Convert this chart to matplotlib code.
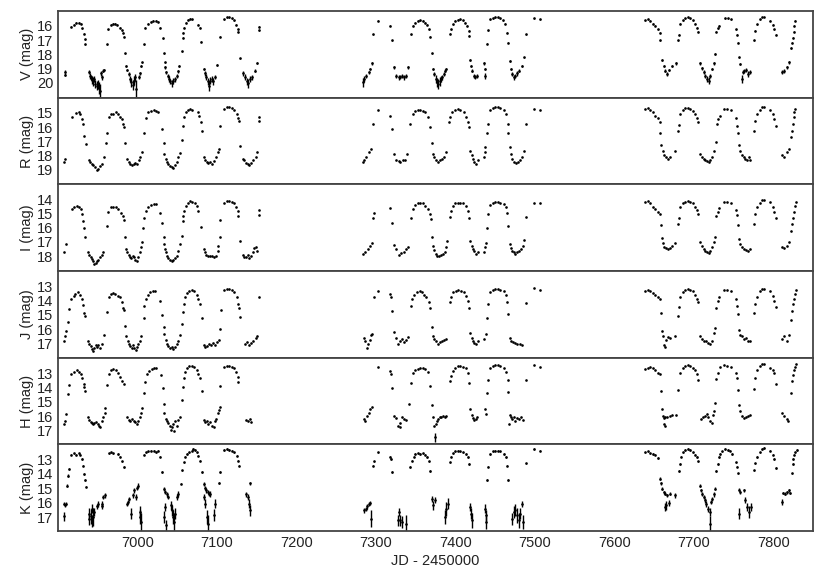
import matplotlib
matplotlib.use("Agg")
import matplotlib.pyplot as plt
import numpy as np

plt.rcParams['font.family'] = ['Liberation Sans', 'DejaVu Sans']

# ---------------- data (JD-2450000, mag, [err]) ----------------
V_pts = [
    (6908.2,19.23,.1),(6909.0,19.44,.1),
    (6916.6,16.07,.03),(6919.5,15.93,.03),(6922.9,15.79,.03),(6925.8,15.77,.03),(6928.3,15.84,.03),(6930.8,16.16,.03),(6932.5,16.54,.03),(6933.4,16.94,.03),(6934.2,17.29,.03),
    (6938.4,19.27,.15),(6939.7,19.51,.2),(6940.9,19.63,.2),(6942.2,19.81,.25),(6943.4,19.91,.3),(6945.1,19.74,.2),(6946.8,20.09,.3),(6948.5,20.21,.3),(6950.2,20.14,.3),(6951.8,20.37,.4),(6953.1,20.56,.5),(6954.4,19.35,.15),(6955.1,19.63,.2),(6956.0,19.16,.1),(6957.7,19.11,.1),
    (6961.4,17.29,.03),(6963.5,16.23,.03),(6966.1,15.93,.03),(6968.6,15.84,.03),(6971.1,15.84,.03),(6974.5,15.93,.03),(6977.4,16.12,.03),(6979.9,16.30,.03),(6981.6,16.47,.03),(6982.9,16.77,.03),(6983.7,17.94,.05),
    (6985.4,18.81,.08),(6987.1,19.11,.1),(6988.8,19.39,.15),(6990.5,19.74,.2),(6992.2,19.98,.3),(6993.8,20.14,.35),(6995.5,19.86,.3),(6997.2,19.63,.25),(6998.5,20.44,.6),(7001.4,19.58,.15),(7003.1,19.35,.1),(7004.8,18.81,.08),(7005.9,18.57,.05),
    (7007.6,17.29,.03),(7009.7,16.12,.03),(7013.0,15.84,.03),(7016.4,15.70,.03),(7019.7,15.65,.03),(7023.0,15.65,.03),(7025.6,15.72,.03),(7028.9,16.12,.03),(7031.9,16.87,.03),
    (7033.1,17.94,.05),(7034.0,18.57,.06),(7035.2,18.92,.08),(7036.5,19.27,.1),(7038.1,19.51,.15),(7039.8,19.74,.2),(7041.5,19.91,.2),(7043.2,20.05,.25),(7045.3,19.86,.2),(7047.4,19.77,.2),(7049.1,19.51,.15),(7050.7,19.20,.1),(7052.4,18.81,.08),(7055.7,17.80,.05),
    (7057.0,16.82,.03),(7057.8,16.47,.03),(7059.1,16.12,.03),(7061.2,15.77,.03),(7063.7,15.58,.03),(7066.7,15.49,.03),(7069.2,15.53,.03),(7076.7,15.93,.03),(7078.4,16.12,.03),(7080.1,17.12,.03),
    (7083.4,19.04,.1),(7085.1,19.35,.15),(7086.8,19.58,.2),(7088.5,19.91,.25),(7090.1,20.21,.35),(7091.8,19.86,.25),(7093.5,19.74,.2),(7095.6,19.91,.25),(7097.7,19.58,.15),(7100.6,18.74,.08),
    (7104.0,16.75,.03),(7109.4,15.53,.03),(7112.4,15.41,.03),(7115.3,15.39,.03),(7118.6,15.46,.03),(7121.6,15.60,.03),(7124.5,15.93,.03),(7126.2,16.23,.03),(7127.0,16.40,.03),(7129.1,18.29,.05),
    (7133.3,19.35,.15),(7135.4,19.58,.2),(7137.5,19.91,.25),(7139.6,20.05,.3),(7141.7,19.74,.2),(7143.8,19.63,.15),(7148.0,19.16,.1),(7150.1,18.62,.08),(7153.0,16.05,.03),(7153.0,16.30,.03),
    (7283.9,19.98,.3),(7285.5,19.74,.2),(7288.0,19.51,.15),(7291.0,19.27,.1),(7293.1,19.04,.1),(7295.2,18.64,.08),(7296.4,16.58,.03),(7302.3,15.65,.03),(7318.2,16.00,.03),(7320.8,17.01,.03),
    (7323.3,18.92,.08),(7325.8,19.51,.15),(7328.7,19.63,.15),(7330.8,19.58,.15),(7332.9,19.51,.15),(7335.0,19.63,.15),(7337.5,19.51,.15),(7340.0,18.92,.08),
    (7344.2,16.58,.03),(7346.7,16.00,.03),(7349.7,15.77,.03),(7352.6,15.65,.03),(7356.0,15.60,.03),(7359.3,15.65,.03),(7362.3,15.77,.03),(7364.4,15.93,.03),(7366.5,16.23,.03),(7368.6,16.77,.03),(7370.2,17.94,.05),
    (7371.9,19.04,.1),(7373.6,19.39,.15),(7375.3,19.74,.25),(7376.9,19.98,.3),(7378.6,20.09,.35),(7380.3,19.91,.3),(7382.0,19.74,.2),(7383.6,19.63,.2),(7385.3,19.39,.15),(7387.4,19.16,.1),(7388.7,19.04,.1),
    (7392.9,16.54,.03),(7394.5,16.23,.03),(7397.1,15.88,.03),(7400.0,15.65,.03),(7402.9,15.58,.03),(7406.3,15.53,.03),(7409.6,15.60,.03),(7412.6,15.77,.03),(7414.7,16.00,.03),(7417.2,16.35,.03),(7417.2,16.70,.03),
    (7418.9,18.41,.06),(7420.1,18.81,.08),(7421.4,19.16,.1),(7423.1,19.51,.15),(7425.2,19.58,.15),(7427.3,19.51,.15),(7436.5,18.64,.08),(7437.7,19.04,.1),(7436.9,19.51,.2),
    (7439.8,17.24,.03),(7440.7,16.30,.03),(7444.0,15.53,.03),(7447.4,15.46,.03),(7450.3,15.41,.03),(7453.3,15.41,.03),(7456.6,15.46,.03),(7460.0,15.60,.03),(7462.9,15.84,.03),(7465.0,16.47,.03),(7466.2,17.17,.03),
    (7468.3,18.46,.06),(7470.0,19.04,.1),(7471.7,19.39,.15),(7473.4,19.63,.2),(7475.1,19.51,.15),(7477.6,19.35,.15),(7480.1,19.16,.1),(7483.9,18.81,.08),(7486.8,18.22,.05),
    (7488.9,16.58,.03),(7498.5,15.46,.03),(7506.1,15.53,.03),
    (7639.0,15.60,.03),(7641.9,15.53,.03),(7645.3,15.65,.03),(7648.6,15.84,.03),(7651.6,16.00,.03),(7654.9,16.23,.03),(7657.0,16.47,.03),(7657.9,17.01,.03),
    (7660.0,18.41,.06),(7662.1,18.81,.08),(7664.2,19.16,.1),(7666.3,19.39,.15),(7668.4,19.11,.1),(7672.5,18.81,.08),(7678.0,18.64,.08),
    (7679.7,17.01,.03),(7680.9,16.63,.03),(7683.0,15.84,.03),(7686.4,15.60,.03),(7689.3,15.46,.03),(7692.3,15.41,.03),(7695.6,15.46,.03),(7699.0,15.60,.03),(7701.9,15.84,.03),(7704.0,16.12,.03),(7704.8,16.40,.03),
    (7708.2,18.64,.08),(7710.3,18.97,.1),(7712.4,19.27,.15),(7714.5,19.51,.15),(7716.6,19.74,.2),(7718.7,19.86,.25),(7720.8,19.51,.15),(7722.9,19.04,.1),(7725.0,18.64,.08),(7727.1,17.99,.05),
    (7728.3,16.40,.03),(7730.0,16.16,.03),(7731.2,16.00,.03),(7739.6,15.46,.03),(7742.6,15.46,.03),(7746.8,15.53,.03),(7753.5,16.23,.03),(7754.3,16.63,.03),(7755.1,17.17,.03),
    (7756.4,18.22,.05),(7758.5,18.69,.08),(7760.6,19.74,.25),(7761.9,19.27,.15),(7763.5,19.16,.15),(7766.1,19.11,.15),(7767.7,19.39,.2),(7770.2,19.27,.15),
    (7775.3,17.01,.03),(7777.4,16.35,.03),(7779.5,15.88,.03),(7782.8,15.53,.03),(7785.8,15.37,.03),(7788.7,15.37,.03),(7796.2,15.65,.03),(7799.5,15.93,.03),(7801.3,16.23,.03),(7802.9,16.63,.03),
    (7810.9,19.27,.15),(7813.8,19.16,.15),(7817.2,18.92,.1),(7819.3,18.57,.08),(7822.6,17.57,.05),(7823.9,17.17,.03),(7824.7,16.82,.03),(7825.6,16.40,.03),(7826.4,16.00,.03),(7827.7,15.65,.03),
]

R_pts = [
    (6908.1,18.45),(6909.0,18.22),(6917.4,15.28),(6922.4,15.05),(6925.8,14.98),(6927.9,15.09),(6930.8,15.44),(6932.0,15.79),(6933.3,16.60),(6935.0,17.18),
    (6938.4,18.29),(6940.4,18.45),(6942.5,18.61),(6944.6,18.68),(6946.7,18.80),(6948.8,18.98),(6950.9,18.91),(6953.0,18.75),(6955.1,18.61),(6957.6,18.10),
    (6960.1,17.13),(6961.4,16.43),
    (6964.3,15.28),(6966.9,15.09),(6969.8,15.09),(6972.7,14.98),(6976.1,15.09),(6978.6,15.28),(6980.3,15.44),(6982.0,15.79),(6983.2,16.02),(6984.0,17.13),
    (6986.6,18.22),(6988.7,18.45),(6990.8,18.57),(6992.9,18.68),(6995.0,18.61),(6997.0,18.52),(6999.6,18.57),(7002.1,18.29),(7003.7,18.06),(7005.4,17.76),
    (7007.6,16.43),(7010.5,15.37),(7013.8,14.98),(7017.2,14.86),(7020.5,14.82),(7023.9,14.86),(7026.4,14.98),(7031.4,16.14),(7033.1,17.13),
    (7033.9,17.87),(7035.6,18.22),(7037.3,18.45),(7039.0,18.61),(7041.1,18.75),(7043.2,18.80),(7045.3,18.84),(7047.4,18.68),(7049.4,18.45),(7051.6,18.10),(7054.1,17.82),
    (7055.7,16.94),(7057.0,15.90),(7059.1,15.32),(7061.2,14.98),(7063.3,14.82),(7066.2,14.77),(7069.2,14.82),(7076.7,14.98),(7077.9,15.21),(7080.1,15.67),(7080.9,16.30),
    (7083.4,18.10),(7085.1,18.33),(7087.2,18.45),(7089.3,18.52),(7091.4,18.45),(7093.5,18.57),(7096.0,18.38),(7098.5,18.10),(7101.0,17.76),(7102.7,17.52),
    (7104.0,15.90),(7109.4,14.75),(7112.4,14.63),(7115.3,14.63),(7118.6,14.68),(7122.0,14.82),(7124.9,15.09),(7127.0,15.37),(7127.9,15.56),(7129.1,17.36),
    (7132.5,18.22),(7134.6,18.33),(7136.7,18.52),(7138.8,18.61),(7140.9,18.68),(7143.0,18.52),(7145.9,18.33),(7148.8,18.10),(7150.9,17.76),(7153.0,15.28),(7153.0,15.56),
    (7283.9,18.45),(7285.5,18.29),(7288.0,18.06),(7291.0,17.76),(7293.9,17.52),(7296.4,15.79),(7302.3,14.82),(7318.2,15.21),(7320.8,16.14),
    (7323.3,17.87),(7325.8,18.29),(7328.7,18.38),(7330.8,18.45),(7334.2,18.33),(7337.1,18.29),(7339.2,17.87),
    (7343.4,15.79),(7346.7,15.09),(7349.7,14.86),(7352.6,14.82),(7356.0,14.82),(7359.3,14.86),(7362.3,14.98),(7365.2,15.32),(7368.6,15.97),(7370.2,17.13),
    (7371.9,17.87),(7373.6,18.10),(7376.1,18.29),(7378.6,18.45),(7381.1,18.33),(7383.6,18.22),(7386.2,18.10),(7388.7,17.76),
    (7392.0,15.67),(7393.7,15.32),(7396.2,14.98),(7399.6,14.82),(7402.9,14.77),(7406.3,14.82),(7410.5,14.98),(7413.8,15.28),(7416.4,15.67),(7417.2,16.02),
    (7418.9,17.64),(7420.5,17.92),(7422.2,18.22),(7423.9,18.45),(7426.4,18.57),(7428.9,18.33),(7435.6,18.06),(7437.7,17.76),(7436.9,17.41),
    (7439.8,16.43),(7440.7,15.79),(7444.0,14.82),(7447.4,14.68),(7450.3,14.63),(7453.3,14.63),(7456.6,14.68),(7460.8,14.82),(7463.3,15.09),(7465.8,15.79),(7466.7,16.43),
    (7468.3,17.41),(7470.0,17.87),(7471.7,18.22),(7473.4,18.45),(7475.9,18.52),(7478.4,18.45),(7480.9,18.33),(7483.4,18.10),(7486.0,17.64),
    (7488.9,15.79),(7498.5,14.75),(7506.1,14.82),
    (7639.0,14.75),(7641.9,14.68),(7645.3,14.82),(7648.6,14.98),(7651.6,15.21),(7654.6,15.37),(7657.0,15.67),(7657.9,16.43),
    (7659.1,17.29),(7661.2,17.64),(7662.9,17.92),(7665.4,18.10),(7667.1,18.22),(7670.5,18.10),(7676.7,17.64),
    (7679.7,16.25),(7680.9,15.83),(7683.0,15.09),(7686.4,14.82),(7689.3,14.68),(7692.3,14.68),(7695.6,14.75),(7699.0,14.86),(7701.9,15.09),(7704.0,15.37),(7704.8,15.67),
    (7708.2,17.87),(7710.3,18.06),(7712.4,18.22),(7714.5,18.33),(7716.6,18.38),(7718.7,18.45),(7720.8,18.29),(7723.3,18.10),(7725.8,17.64),(7727.5,17.06),
    (7729.2,15.79),(7730.9,15.44),(7732.5,15.21),(7738.6,14.75),(7741.7,14.75),(7746.8,14.82),(7753.5,15.37),(7754.3,15.90),(7755.1,16.43),
    (7756.4,17.29),(7758.5,17.64),(7760.6,17.92),(7762.7,18.10),(7764.8,18.22),(7766.9,18.29),(7769.0,18.10),(7771.1,18.29),
    (7775.3,16.25),(7777.4,15.56),(7779.5,15.09),(7782.8,14.82),(7785.8,14.63),(7788.7,14.63),(7796.2,14.82),(7799.5,15.09),(7801.3,15.44),(7802.9,15.90),
    (7810.9,17.92),(7813.8,18.06),(7817.2,17.76),(7819.3,17.52),(7822.6,16.71),(7823.9,16.25),(7824.7,15.79),(7825.6,15.32),(7826.4,14.98),(7827.7,14.75),
]

I_pts = [
    (6908.1,17.74),(6909.8,17.16),
    (6917.4,14.70),(6920.7,14.54),(6923.7,14.47),(6926.6,14.54),(6929.1,14.70),(6930.8,15.05),(6932.0,15.52),(6933.3,15.99),(6934.1,16.69),
    (6937.5,17.74),(6939.2,17.91),(6940.9,18.05),(6942.5,18.21),(6944.2,18.37),(6945.9,18.56),(6947.6,18.51),(6949.2,18.37),(6950.9,18.28),(6953.0,18.09),(6955.1,17.91),(6957.2,17.74),
    (6961.4,15.87),(6963.5,14.87),(6966.9,14.58),(6969.8,14.54),(6972.7,14.58),(6976.1,14.70),(6979.4,14.94),(6981.5,15.17),(6982.8,15.47),(6983.7,16.69),
    (6985.4,17.51),(6987.1,17.74),(6988.8,17.91),(6990.5,18.05),(6992.2,18.14),(6993.8,17.98),(6995.5,18.09),(6997.2,18.28),(6999.6,18.37),(7001.2,18.09),(7002.9,17.74),(7004.6,17.39),(7006.3,17.04),
    (7007.5,16.04),(7008.8,15.29),(7010.5,14.82),(7013.8,14.54),(7017.2,14.40),(7020.5,14.35),(7023.0,14.35),(7028.5,14.94),(7031.4,15.64),
    (7033.1,16.69),(7033.9,17.16),(7034.8,17.51),(7036.0,17.74),(7037.3,17.98),(7039.0,18.14),(7041.1,18.28),(7043.2,18.33),(7045.3,18.28),(7047.4,18.14),(7049.4,17.98),(7051.6,17.63),(7054.1,17.16),(7055.7,16.57),
    (7057.0,15.52),(7057.8,15.17),(7059.1,14.82),(7060.8,14.47),(7063.3,14.23),(7066.2,14.12),(7069.2,14.16),(7072.5,14.23),(7075.0,14.47),(7076.7,14.82),(7080.1,15.94),
    (7083.4,17.51),(7085.1,17.74),(7086.8,17.91),(7089.3,17.98),(7091.8,17.98),(7094.3,17.98),(7096.8,18.05),(7099.3,17.98),(7101.0,17.63),(7101.9,17.28),(7103.5,16.69),
    (7104.4,15.47),(7109.4,14.23),(7112.4,14.12),(7115.3,14.12),(7118.6,14.16),(7122.0,14.30),(7124.5,14.54),(7126.2,14.82),(7127.0,15.17),(7129.1,16.92),
    (7132.5,17.91),(7134.6,18.09),(7136.7,18.05),(7138.8,17.91),(7140.9,18.14),(7143.0,17.98),(7145.1,17.74),(7147.2,17.44),(7148.8,17.39),(7150.5,17.63),(7153.0,14.77),(7153.0,15.10),
    (7283.9,17.86),(7286.4,17.74),(7289.7,17.51),(7292.2,17.28),(7295.2,17.11),(7296.4,15.29),(7297.3,14.94),(7318.2,14.63),(7320.8,15.64),
    (7323.3,17.20),(7325.8,17.51),(7328.7,17.91),(7331.7,17.81),(7335.0,17.74),(7338.4,17.51),(7340.0,17.35),
    (7344.2,15.29),(7346.7,14.70),(7349.7,14.40),(7352.6,14.30),(7356.0,14.23),(7359.3,14.30),(7362.3,14.47),(7365.2,14.70),(7367.7,15.01),(7369.4,15.40),(7370.2,16.64),
    (7371.9,17.28),(7373.6,17.58),(7375.3,17.86),(7376.9,17.98),(7379.5,17.98),(7382.0,17.91),(7384.5,17.86),(7387.0,17.74),(7388.7,17.39),(7389.5,16.97),
    (7392.9,15.24),(7394.5,14.82),(7397.1,14.47),(7400.0,14.30),(7402.9,14.23),(7406.3,14.23),(7409.6,14.30),(7413.0,14.47),(7415.5,14.82),(7417.2,15.29),
    (7418.9,16.97),(7420.5,17.28),(7422.2,17.51),(7423.9,17.67),(7426.4,17.86),(7428.9,17.74),(7435.6,17.74),(7437.3,17.39),(7438.2,17.11),
    (7439.8,15.99),(7440.7,15.05),(7444.0,14.40),(7447.4,14.23),(7450.3,14.16),(7453.3,14.16),(7456.6,14.23),(7460.8,14.35),(7463.3,14.54),(7465.0,14.94),(7466.2,15.87),
    (7468.3,17.16),(7470.0,17.44),(7471.7,17.63),(7473.4,17.74),(7475.1,17.86),(7477.6,17.74),(7480.1,17.63),(7482.6,17.51),(7485.1,17.28),(7486.8,16.88),
    (7488.9,15.24),(7498.5,14.23),(7506.1,14.23),
    (7639.0,14.16),(7641.9,14.12),(7645.3,14.30),(7648.6,14.54),(7651.6,14.70),(7654.6,14.87),(7657.0,15.01),(7658.7,15.80),
    (7660.0,16.74),(7661.2,17.11),(7662.9,17.35),(7665.4,17.44),(7667.1,17.51),(7669.6,17.44),(7672.5,17.28),(7676.7,17.11),
    (7679.7,15.75),(7680.9,15.33),(7683.0,14.54),(7686.4,14.30),(7689.3,14.16),(7692.3,14.12),(7695.6,14.16),(7699.0,14.30),(7701.9,14.54),(7704.0,14.77),(7704.8,15.01),
    (7708.2,17.04),(7710.3,17.28),(7712.4,17.51),(7714.5,17.63),(7716.6,17.74),(7718.7,17.81),(7720.8,17.63),(7722.9,17.39),(7725.0,17.04),(7726.7,16.64),
    (7728.3,15.17),(7730.0,14.87),(7731.7,14.63),(7738.4,14.16),(7741.7,14.16),(7746.8,14.23),(7753.5,14.77),(7754.3,15.10),(7755.1,15.80),
    (7756.4,16.81),(7758.5,17.16),(7761.0,17.35),(7763.5,17.51),(7766.1,17.58),(7768.5,17.63),(7771.1,17.51),
    (7775.3,15.71),(7777.4,15.01),(7779.5,14.54),(7782.8,14.23),(7785.8,14.07),(7788.7,14.07),(7796.2,14.16),(7799.5,14.54),(7801.3,14.87),(7802.9,15.29),
    (7810.9,17.35),(7813.8,17.44),(7817.2,17.28),(7819.7,17.04),(7822.6,16.22),(7823.9,15.71),(7824.7,15.29),(7825.6,14.87),(7826.9,14.47),(7828.1,14.16),
]

J_pts = [
    (6908.1,16.79),(6909.0,16.49),(6909.8,16.13),(6912.3,15.48),(6914.0,14.61),
    (6916.5,13.91),(6919.5,13.68),(6921.6,13.56),(6924.9,13.44),(6927.9,13.61),(6930.0,13.91),(6931.6,14.31),(6933.3,14.85),(6934.1,15.08),
    (6937.5,16.84),(6939.2,17.02),(6940.9,17.19),(6942.5,17.35),(6944.2,17.49),(6945.9,17.30),(6947.6,17.12),(6949.2,17.26),(6950.9,17.07),(6953.0,17.30),(6955.1,17.02),(6957.7,16.37),
    (6961.8,14.78),(6964.3,13.79),(6966.9,13.56),(6968.6,13.51),(6971.9,13.56),(6975.3,13.68),(6978.2,13.79),(6980.3,14.08),(6982.0,14.50),(6982.8,14.68),(6984.5,15.78),
    (6986.1,16.49),(6987.8,16.84),(6989.5,17.02),(6991.2,17.19),(6992.8,17.30),(6994.5,17.12),(6996.2,17.30),(6997.9,17.42),(6999.6,17.26),(7001.2,17.02),(7002.9,16.79),(7004.6,16.49),
    (7007.6,15.20),(7008.8,14.38),(7010.5,13.91),(7013.0,13.61),(7015.9,13.44),(7018.9,13.37),(7022.2,13.33),(7028.5,14.03),(7031.4,15.01),
    (7033.1,15.85),(7033.9,16.32),(7035.6,16.72),(7037.3,17.02),(7039.0,17.19),(7041.1,17.30),(7043.2,17.26),(7045.3,17.35),(7047.4,17.26),(7049.4,17.02),(7051.6,16.79),(7053.7,16.42),
    (7055.7,15.67),(7057.0,14.78),(7058.3,14.26),(7059.9,13.79),(7062.5,13.51),(7065.0,13.33),(7068.3,13.28),(7071.7,13.37),(7074.6,13.61),(7076.7,13.91),(7078.4,14.26),(7080.9,15.20),
    (7083.4,17.07),(7085.1,17.26),(7087.6,17.19),(7090.1,17.02),(7092.6,17.12),(7095.2,16.95),(7097.7,17.07),(7100.2,16.88),(7102.7,16.72),
    (7104.4,16.02),(7105.2,14.68),(7109.4,13.28),(7112.4,13.21),(7115.3,13.21),(7118.6,13.28),(7122.0,13.44),(7124.9,13.79),(7127.0,14.26),(7127.9,14.50),(7128.7,15.15),
    (7135.4,17.02),(7137.5,16.88),(7140.4,17.12),(7142.9,16.95),(7145.9,16.79),(7148.8,16.60),(7150.5,16.49),(7153.0,13.79),
    (7284.7,16.60),(7286.4,16.84),(7288.9,17.30),(7290.6,17.02),(7292.2,16.72),(7293.9,16.42),(7295.6,16.32),(7297.3,13.75),(7302.3,13.37),
    (7317.4,13.56),(7319.1,13.75),(7320.8,14.73),
    (7323.3,16.18),(7325.0,16.60),(7327.5,17.02),(7330.0,16.84),(7332.5,16.65),(7335.0,16.88),(7337.5,16.72),(7340.0,16.56),
    (7344.2,14.38),(7345.9,13.91),(7348.4,13.61),(7351.8,13.44),(7355.1,13.37),(7358.5,13.44),(7361.0,13.61),(7363.5,13.79),(7366.9,14.08),(7368.6,14.54),(7370.2,15.85),
    (7371.9,16.49),(7373.6,16.65),(7375.3,16.84),(7377.8,17.02),(7380.3,16.88),(7382.8,16.79),(7385.3,16.72),(7387.8,16.65),
    (7392.9,14.08),(7394.5,13.75),(7397.1,13.44),(7400.4,13.33),(7403.8,13.28),(7407.1,13.33),(7410.5,13.44),(7413.8,13.68),(7416.4,14.03),(7417.2,14.50),
    (7418.9,16.25),(7420.5,16.60),(7422.2,16.84),(7423.9,16.95),(7426.4,17.02),(7428.9,16.84),(7436.5,16.65),(7438.2,16.32),
    (7439.8,15.25),(7440.7,14.22),(7444.0,13.44),(7447.4,13.28),(7450.3,13.21),(7453.3,13.21),(7456.6,13.28),(7460.8,13.37),(7463.3,13.61),(7465.0,14.08),(7466.2,14.96),
    (7468.3,16.60),(7470.0,16.79),(7472.5,16.88),(7475.1,16.95),(7477.6,17.02),(7480.9,17.02),(7484.3,17.07),
    (7488.9,14.15),(7498.5,13.14),(7506.1,13.28),
    (7639.0,13.37),(7641.9,13.28),(7645.3,13.37),(7648.6,13.51),(7651.6,13.61),(7654.6,13.75),(7657.0,13.91),(7658.7,14.85),
    (7660.0,16.13),(7661.2,16.49),(7662.9,17.07),(7664.2,17.26),(7665.4,16.72),(7667.1,16.56),(7670.5,16.60),(7676.7,16.49),
    (7679.7,15.08),(7680.9,14.45),(7683.0,13.75),(7686.4,13.44),(7689.3,13.28),(7692.3,13.21),(7695.6,13.28),(7699.0,13.37),(7701.9,13.61),(7704.0,13.91),(7704.8,14.08),
    (7708.2,16.49),(7710.7,16.65),(7713.2,16.84),(7715.7,16.79),(7718.2,16.95),(7720.8,17.02),(7723.3,16.84),(7725.8,16.25),(7726.6,15.95),
    (7728.3,14.50),(7730.0,14.03),(7731.7,13.75),(7738.4,13.28),(7741.7,13.28),(7746.8,13.33),(7753.5,13.91),(7754.3,14.38),(7755.1,14.92),
    (7756.8,16.09),(7758.5,16.37),(7761.0,16.49),(7763.5,16.65),(7766.1,16.60),(7768.5,16.79),(7771.1,16.84),
    (7776.1,14.85),(7777.4,14.22),(7779.5,13.75),(7782.8,13.33),(7785.8,13.21),(7788.7,13.21),(7796.2,13.37),(7799.5,13.68),(7801.3,14.03),(7802.9,14.45),
    (7810.9,16.65),(7813.0,16.49),(7817.2,16.79),(7819.7,16.37),(7822.6,15.39),(7823.9,14.73),(7824.7,14.26),(7825.6,13.91),(7826.9,13.56),(7828.1,13.28),
]

H_pts = [
    (6908.1,16.56),(6909.0,16.32),(6909.8,15.81),(6912.3,14.45),(6913.2,13.80),
    (6916.5,13.00),(6919.5,12.86),(6923.7,12.77),(6926.6,12.86),(6929.1,13.05),(6930.8,13.33),(6932.5,13.70),(6933.3,13.94),(6934.1,14.26),
    (6937.5,16.09),(6939.2,16.28),(6940.9,16.44),(6942.5,16.51),(6944.2,16.56),(6945.9,16.51),(6947.6,16.44),(6950.1,16.56),(6951.8,16.67),(6953.4,16.74),(6955.1,16.32),(6956.8,16.04),(6958.5,15.74),(6959.3,15.39),
    (6961.8,13.80),(6964.3,13.00),(6966.9,12.77),(6969.8,12.70),(6972.7,12.77),(6976.1,12.93),(6978.6,13.23),(6981.1,13.51),(6982.8,13.70),
    (6986.6,16.04),(6988.7,16.28),(6990.8,16.37),(6992.9,16.21),(6995.0,16.32),(6997.0,16.44),(6999.1,16.56),(7001.2,16.32),(7003.3,16.09),(7004.6,15.74),(7006.3,15.43),
    (7008.8,14.40),(7009.6,13.56),(7011.7,13.05),(7014.6,12.81),(7018.0,12.70),(7021.4,12.63),(7023.0,12.63),(7029.7,13.09),(7031.8,14.03),
    (7033.1,15.15),(7033.9,15.74),(7035.6,16.21),(7037.3,16.32),(7039.0,16.51),(7041.1,16.67),(7043.2,16.79),(7045.3,16.56),(7047.4,16.37),(7049.4,16.67),(7051.6,16.28),(7054.1,16.09),(7042.3,16.98),(7046.5,17.02),
    (7055.7,14.87),(7057.0,13.94),(7058.3,13.28),(7059.9,12.86),(7062.5,12.58),(7065.0,12.46),(7068.3,12.46),(7071.7,12.53),(7074.6,12.77),(7076.7,13.05),(7078.4,13.33),(7080.9,14.26),
    (7083.4,16.28),(7085.1,16.44),(7087.2,16.37),(7089.3,16.56),(7091.4,16.44),(7094.3,16.67),(7096.0,16.79),(7097.7,16.32),(7099.3,16.21),(7101.0,15.74),(7102.7,15.57),(7103.5,15.34),
    (7104.4,13.87),(7109.4,12.53),(7112.4,12.46),(7115.3,12.46),(7118.6,12.53),(7122.0,12.63),(7124.5,12.86),(7126.2,13.23),(7127.0,13.56),
    (7136.2,16.28),(7138.8,16.37),(7142.1,16.21),(7143.0,16.44),
    (7284.7,16.21),(7286.4,16.37),(7288.9,15.97),(7291.0,15.74),(7293.1,15.50),(7294.8,15.34),(7302.3,12.53),
    (7317.4,12.81),(7319.1,13.00),(7320.8,13.98),
    (7322.4,15.97),(7325.0,16.13),(7327.5,16.67),(7330.0,16.51),(7332.5,16.09),(7335.0,16.21),(7337.5,16.28),(7341.3,15.15),(7330.0,16.79),
    (7344.2,13.63),(7346.7,12.93),(7349.7,12.77),(7352.6,12.70),(7356.0,12.63),(7359.3,12.63),(7362.3,12.70),(7365.2,12.86),(7368.6,13.87),(7370.2,15.20),
    (7371.9,16.04),(7373.6,16.67),(7375.3,16.56),(7376.9,16.37),(7378.6,16.21),(7380.3,16.09),(7382.0,16.04),(7384.5,15.97),(7387.0,16.04),(7388.7,15.97),
    (7392.9,13.51),(7394.5,13.16),(7397.1,12.81),(7400.0,12.58),(7402.9,12.46),(7406.3,12.46),(7409.6,12.53),(7413.0,12.63),(7415.5,12.93),(7417.2,13.63),
    (7418.9,15.50),(7420.5,15.90),(7422.2,16.13),(7423.9,16.28),(7425.6,16.21),(7427.3,16.09),(7437.3,15.50),(7438.2,15.81),
    (7439.8,14.40),(7440.7,13.47),(7444.0,12.63),(7447.4,12.46),(7450.3,12.39),(7453.3,12.39),(7456.6,12.46),(7460.8,12.63),(7463.3,12.86),(7465.8,13.47),(7466.7,14.33),
    (7467.5,16.56),(7468.3,15.90),(7470.0,16.04),(7471.7,16.21),(7473.4,16.09),(7475.5,16.32),(7477.6,16.13),(7480.1,16.21),(7482.6,16.09),(7485.1,16.28),
    (7488.9,13.47),(7498.5,12.39),(7506.1,12.53),
    (7639.0,12.70),(7641.9,12.58),(7645.3,12.53),(7648.6,12.63),(7651.6,12.77),(7654.6,12.93),(7657.0,13.00),(7658.7,14.22),
    (7660.0,15.50),(7661.2,15.97),(7662.9,16.13),(7664.2,16.04),(7666.3,16.09),(7669.6,15.97),(7672.5,15.90),(7678.0,15.90),(7662.1,16.56),(7664.2,16.67),
    (7679.7,14.17),(7683.0,12.93),(7686.4,12.63),(7689.3,12.46),(7692.3,12.39),(7695.6,12.46),(7699.0,12.58),(7701.9,12.77),(7704.0,13.05),(7704.8,13.47),
    (7709.1,16.21),(7711.6,16.09),(7714.1,15.97),(7716.6,15.85),(7718.3,16.04),(7720.8,16.37),(7722.5,16.51),(7724.1,15.90),(7725.0,15.62),(7726.7,15.04),
    (7728.3,13.40),(7730.0,12.93),(7732.5,12.53),(7738.4,12.39),(7741.7,12.46),(7746.8,12.53),(7753.5,12.93),(7754.3,13.33),(7755.1,14.17),
    (7756.4,15.20),(7758.5,15.62),(7761.0,15.97),(7763.5,16.13),(7766.1,16.04),(7768.5,15.97),(7771.1,15.90),
    (7775.3,14.10),(7777.4,13.28),(7779.5,12.77),(7782.8,12.46),(7785.8,12.35),(7788.7,12.35),(7796.2,12.58),(7799.5,12.77),(7801.3,12.93),(7802.9,13.70),
    (7810.9,15.74),(7813.8,15.97),(7817.2,16.21),(7818.9,16.32),(7822.6,14.40),(7823.9,13.51),(7824.7,13.09),(7825.6,12.77),(7826.9,12.53),(7828.1,12.35),
]
H_faint = [(7374.4,17.49,.3)]

K_pts = [
    (6908.1,16.08,.1),(6909.0,16.20,.1),(6909.8,16.08,.1),(6908.1,16.95,.3),(6911.1,14.82,.08),(6912.3,14.13,.08),(6913.2,13.67,.06),
    (6916.5,12.68,.05),(6919.5,12.59,.05),(6922.4,12.68,.05),(6925.8,12.59,.05),(6927.9,12.68,.05),(6930.0,12.98,.05),(6932.0,13.44,.05),(6933.3,14.01,.05),(6934.1,14.43,.05),(6935.0,14.89,.05),
    (6938.4,16.77,.4),(6939.2,17.12,.4),(6940.9,16.95,.5),(6942.5,16.43,.3),(6942.5,17.28,.4),(6944.2,17.00,.6),(6945.9,16.66,.3),(6948.8,16.27,.2),(6950.9,16.08,.2),(6955.1,16.08,.2),(6955.9,16.27,.2),(6957.2,15.62,.15),(6959.3,15.51,.15),
    (6964.3,12.59,.05),(6966.9,12.52,.05),(6969.8,12.59,.05),(6976.1,12.63,.05),(6978.2,12.82,.05),(6980.3,13.14,.05),(6982.4,13.55,.05),
    (6986.6,16.08,.15),(6987.8,15.97,.15),(6989.5,15.74,.15),(6992.0,16.77,.4),(6994.9,15.51,.15),(6996.2,15.16,.15),(6997.9,15.62,.2),(6999.6,14.98,.15),(7001.2,14.82,.15),(7002.9,16.66,.4),(7003.7,17.00,.5),(7004.6,17.35,.6),
    (7008.8,12.68,.05),(7010.5,12.52,.05),(7013.8,12.45,.05),(7017.2,12.40,.05),(7020.5,12.40,.05),(7023.0,12.52,.05),(7025.6,12.40,.05),(7028.5,12.82,.05),(7031.4,13.90,.05),
    (7033.1,15.05,.15),(7034.8,15.28,.15),(7036.9,15.44,.15),(7038.1,15.62,.15),(7034.8,16.31,.3),(7033.9,17.00,.4),(7035.6,17.58,.4),(7042.3,16.20,.3),(7043.2,16.54,.4),(7045.3,17.00,.5),(7046.5,17.35,.6),(7047.4,16.77,.4),(7049.4,15.62,.2),(7050.7,15.39,.2),
    (7054.9,14.70,.05),(7056.6,13.78,.05),(7058.3,13.21,.05),(7059.9,12.82,.05),(7062.0,12.63,.05),(7065.0,12.52,.05),(7068.3,12.40,.05),(7070.4,12.29,.05),(7072.5,12.36,.05),(7074.6,12.52,.05),(7076.7,12.75,.05),(7078.8,13.09,.05),(7080.9,13.90,.05),
    (7083.4,14.70,.15),(7085.1,14.98,.15),(7086.8,15.16,.15),(7088.5,15.28,.15),(7090.1,15.39,.15),(7084.3,15.62,.2),(7085.1,16.08,.3),(7087.6,17.00,.5),(7088.5,17.46,.6),(7091.4,15.39,.2),(7096.8,16.88,.4),(7097.7,16.08,.3),
    (7102.7,14.66,.05),(7103.5,13.90,.05),(7109.4,12.36,.05),(7112.4,12.29,.05),(7115.3,12.36,.05),(7118.6,12.40,.05),(7122.0,12.52,.05),(7124.9,12.75,.05),(7127.0,13.09,.05),(7127.9,13.44,.05),
    (7141.7,14.66,.1),(7136.2,15.44,.15),(7138.8,15.62,.2),(7140.4,16.08,.3),(7141.3,16.54,.4),
    (7285.5,16.54,.15),(7287.2,16.43,.15),(7288.9,16.27,.15),(7291.0,16.08,.15),(7293.1,16.04,.15),(7293.9,17.12,.6),(7296.4,13.44,.05),(7297.3,13.14,.05),(7302.3,12.52,.05),
    (7317.4,12.82,.05),(7319.1,12.98,.05),(7320.8,13.90,.05),
    (7327.5,17.23,.4),(7329.1,16.66,.3),(7330.8,17.23,.4),(7333.3,17.35,.4),(7338.4,17.46,.6),
    (7343.4,13.55,.05),(7345.5,13.09,.05),(7347.6,12.82,.05),(7349.7,12.63,.05),(7352.6,12.59,.05),(7356.0,12.63,.05),(7359.3,12.59,.05),(7362.3,12.68,.05),(7364.4,12.86,.05),(7366.5,13.14,.05),(7368.6,13.83,.05),
    (7370.2,15.74,.2),(7371.9,16.20,.3),(7374.4,15.85,.2),(7387.4,17.00,.5),(7388.7,16.43,.5),(7390.4,16.08,.4),
    (7392.9,13.21,.05),(7394.5,12.82,.05),(7397.1,12.59,.05),(7400.0,12.45,.05),(7402.9,12.40,.05),(7406.3,12.45,.05),(7409.6,12.52,.05),(7413.0,12.63,.05),(7415.5,12.86,.05),(7417.2,13.32,.05),
    (7418.9,16.31,.3),(7419.7,16.77,.4),(7421.0,17.23,.5),(7437.3,16.43,.3),(7438.2,16.89,.4),(7439.0,17.35,.5),
    (7439.8,14.43,.05),(7440.7,13.51,.05),(7444.0,12.63,.05),(7447.4,12.45,.05),(7450.3,12.40,.05),(7453.3,12.40,.05),(7456.6,12.45,.05),(7460.8,12.63,.05),(7463.3,12.86,.05),(7465.0,13.44,.05),(7466.2,14.43,.05),
    (7471.3,17.12,.4),(7473.4,16.66,.4),(7475.5,16.50,.4),(7477.6,16.89,.5),(7479.7,17.23,.5),(7481.8,16.77,.4),(7483.9,16.08,.2),(7485.1,17.35,.5),
    (7488.9,13.28,.05),(7498.5,12.29,.05),(7506.1,12.40,.05),
    (7639.0,12.52,.05),(7641.9,12.45,.05),(7645.3,12.59,.05),(7648.6,12.63,.05),(7651.6,12.68,.05),(7654.6,12.91,.05),
    (7657.9,14.36,.1),(7659.1,14.66,.1),(7660.0,15.05,.1),(7662.1,15.28,.1),(7664.2,15.39,.1),(7666.3,15.51,.1),(7670.5,15.39,.1),(7676.7,15.51,.15),(7665.4,16.20,.3),(7664.2,16.31,.3),(7668.4,16.04,.2),
    (7680.9,13.83,.05),(7682.2,13.32,.05),(7683.9,12.82,.05),(7686.4,12.52,.05),(7689.3,12.36,.05),(7692.3,12.29,.05),(7695.6,12.36,.05),(7699.0,12.52,.05),(7701.9,12.68,.05),(7704.0,12.86,.05),(7705.7,13.14,.05),
    (7708.2,14.82,.1),(7709.1,15.16,.1),(7710.3,15.39,.15),(7712.4,15.62,.15),(7714.5,15.85,.15),(7715.7,16.08,.2),(7717.4,16.43,.2),(7719.9,16.66,.3),(7720.8,17.46,.5),(7721.5,15.97,.15),(7723.3,15.74,.15),(7725.0,15.44,.15),(7727.1,15.05,.1),
    (7728.3,13.83,.05),(7730.0,13.32,.05),(7731.7,12.86,.05),(7733.4,12.63,.05),(7735.5,12.45,.05),(7739.6,12.29,.05),(7742.6,12.36,.05),(7745.9,12.40,.05),(7748.0,12.63,.05),
    (7753.5,13.21,.05),(7754.3,13.51,.05),(7755.1,13.97,.05),
    (7756.4,15.12,.1),(7757.6,15.28,.1),(7762.7,15.16,.1),(7764.8,15.85,.2),(7766.9,16.31,.3),(7769.0,16.66,.4),(7772.0,16.31,.3),(7756.4,16.77,.4),
    (7775.3,13.78,.05),(7777.4,13.28,.05),(7779.5,12.86,.05),(7782.8,12.52,.05),(7785.8,12.29,.05),(7788.7,12.22,.05),(7796.2,12.40,.05),(7799.5,12.68,.05),(7801.3,12.98,.05),(7802.9,13.60,.05),
    (7810.9,15.97,.2),(7812.1,15.34,.1),(7815.1,15.39,.1),(7817.2,15.28,.1),(7819.3,15.16,.1),(7821.4,15.34,.1),
    (7823.0,13.97,.05),(7824.3,13.32,.05),(7825.1,12.98,.05),(7826.4,12.68,.05),(7827.7,12.52,.05),(7829.3,12.36,.05),
]

bands = ["V", "R", "I", "J", "H", "K"]
band_pts = [V_pts, R_pts, I_pts, J_pts, H_pts, K_pts]
ylims = [(21.05, 14.95), (20.0, 13.95), (19.05, 12.95), (17.98, 11.95), (17.98, 11.88), (17.97, 11.97)]
yticks = [[16, 17, 18, 19, 20], [15, 16, 17, 18, 19], [14, 15, 16, 17, 18],
          [13, 14, 15, 16, 17], [13, 14, 15, 16, 17], [13, 14, 15, 16, 17]]
xticks = [7000, 7100, 7200, 7300, 7400, 7500, 7600, 7700, 7800]
xlim = (6900, 7850)

# ---------------- figure ----------------
fig, axes = plt.subplots(6, 1, figsize=(8.3, 5.77), dpi=100, sharex=True)
fig.subplots_adjust(left=0.0699, right=0.9795, top=0.981, bottom=0.0797, hspace=0)

for ax, band, pts, yl, yt in zip(axes, bands, band_pts, ylims, yticks):
    arr = np.array(pts)
    if arr.shape[1] == 3:
        ax.errorbar(arr[:, 0], arr[:, 1], yerr=arr[:, 2], fmt='o', ms=1.9,
                    color='black', ecolor='black', elinewidth=1.0, capsize=0,
                    mew=0)
    else:
        ax.plot(arr[:, 0], arr[:, 1], 'o', ms=1.9, color='black', mew=0)
    if band == "H":
        hf = np.array(H_faint)
        ax.errorbar(hf[:, 0], hf[:, 1], yerr=hf[:, 2], fmt='o', ms=1.9,
                    color='black', elinewidth=1.0, capsize=0, mew=0)
    ax.set_ylim(*yl)
    ax.set_yticks(yt)
    ax.set_xlim(*xlim)
    ax.set_xticks(xticks)
    ax.set_ylabel(f"{band} (mag)", fontsize=10.5, labelpad=2, color='#222222')
    ax.tick_params(axis='both', length=0, labelsize=10.5, pad=3.5, colors='#222222')
    for sp in ax.spines.values():
        sp.set_color('#444444')
        sp.set_linewidth(1.3)

axes[-1].set_xlabel("JD - 2450000", fontsize=10.5, labelpad=3, color='#222222')

fig.savefig("out.png", dpi=100)
